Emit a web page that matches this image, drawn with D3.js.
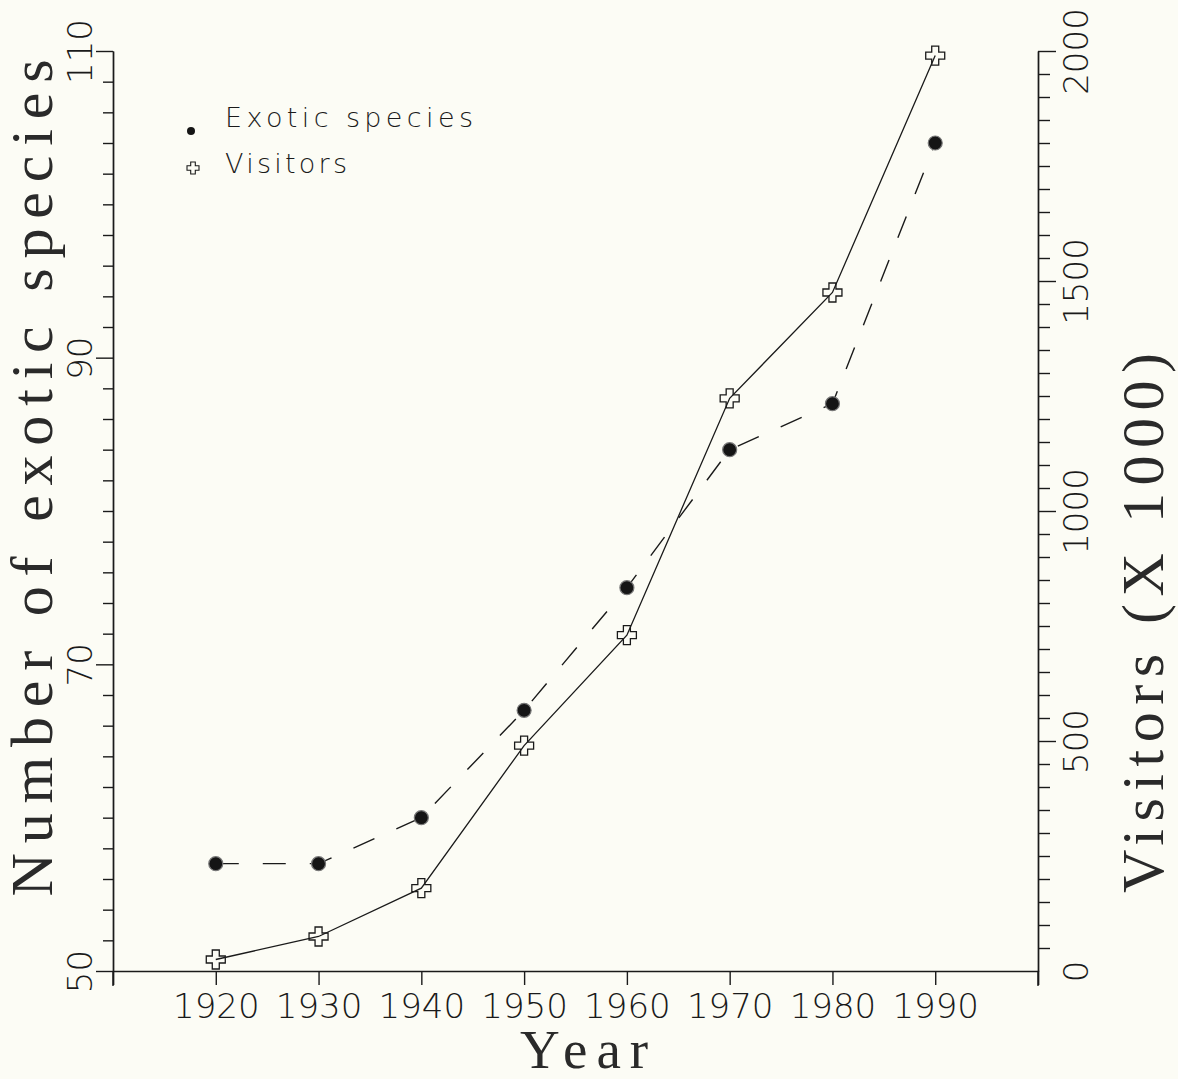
<!DOCTYPE html>
<html>
<head>
<meta charset="utf-8">
<script src="https://cdn.jsdelivr.net/npm/d3@7"></script>
<style>
  body { margin: 0; background: #fcfcf5; }
  svg { display: block; }
  .tick text { font-family: "DejaVu Sans", sans-serif; font-weight: 200; fill: #1a1a1a; }
  .axis path, .axis line { stroke: #1a1a1a; stroke-width: 1.4; }
</style>
</head>
<body>
<script>
// data
const years = [1920, 1930, 1940, 1950, 1960, 1970, 1980, 1990];
const exoticSpecies = [57, 57, 60, 67, 75, 84, 87, 104];
const visitors = [25, 75, 180, 490, 730, 1245, 1475, 1990];

const xTicks = [1910, 1920, 1930, 1940, 1950, 1960, 1970, 1980, 1990, 2000];
const xLabels = [1920, 1930, 1940, 1950, 1960, 1970, 1980, 1990];
const leftLabels = [50, 70, 90, 110];
const rightLabels = [0, 500, 1000, 1500, 2000];

const outerWidth = 1178;
const outerHeight = 1079;

const svg = d3.select('body')
  .append('svg')
  .attr('width', outerWidth)
  .attr('height', outerHeight)
  .style('background', '#fcfcf5');

const xScale = d3.scaleLinear().domain([1910, 2000]).range([113, 1038]);
const yLeft = d3.scaleLinear().domain([50, 110]).range([971, 51]);
const yRight = d3.scaleLinear().domain([0, 2000]).range([971, 51]);

// x axis
const xAxis = d3.axisBottom(xScale)
  .tickValues(xTicks)
  .tickSizeOuter(0)
  .tickSize(14)
  .tickFormat(d => xLabels.includes(d) ? d : '');

svg.append('g')
  .attr('class', 'axis x-axis')
  .attr('transform', 'translate(0, 971)')
  .call(xAxis)
  .call(g => g.selectAll('.tick text')
    .attr('y', 47).attr('dy', 0)
    .attr('font-size', 34));

// left axis: minor ticks every 2, labelled every 20
const leftMinor = d3.range(52, 110, 2).filter(d => !leftLabels.includes(d));
svg.append('g')
  .attr('class', 'axis y-left-minor')
  .attr('transform', 'translate(113, 0)')
  .call(d3.axisLeft(yLeft).tickValues(leftMinor).tickSize(10).tickSizeOuter(0).tickFormat(''));

svg.append('g')
  .attr('class', 'axis y-left')
  .attr('transform', 'translate(113, 0)')
  .call(d3.axisLeft(yLeft).tickValues(leftLabels).tickSize(17).tickSizeOuter(0))
  .call(g => g.selectAll('.tick text')
    .attr('transform', 'rotate(-90)')
    .attr('x', 0).attr('y', -21).attr('dy', 0)
    .attr('text-anchor', 'middle')
    .attr('font-size', 34));

// extend left axis below x axis
svg.append('line')
  .attr('x1', 113).attr('x2', 113)
  .attr('y1', yLeft(50)).attr('y2', yLeft(50) + 15)
  .attr('stroke', '#1a1a1a').attr('stroke-width', 1.4);

// right axis: minor every 50, labelled every 500
const rightMinor = d3.range(50, 2000, 50).filter(d => d % 500 !== 0);
svg.append('g')
  .attr('class', 'axis y-right-minor')
  .attr('transform', 'translate(1038, 0)')
  .call(d3.axisRight(yRight).tickValues(rightMinor).tickSize(12).tickSizeOuter(0).tickFormat(''));

svg.append('g')
  .attr('class', 'axis y-right')
  .attr('transform', 'translate(1038, 0)')
  .call(d3.axisRight(yRight).tickValues(rightLabels).tickSize(18).tickSizeOuter(0).tickFormat(d3.format('d')))
  .call(g => g.selectAll('.tick line').filter(d => d === 0).remove())
  .call(g => g.selectAll('.tick text')
    .attr('transform', 'rotate(-90)')
    .attr('x', 0).attr('y', 50).attr('dy', 0)
    .attr('text-anchor', 'middle')
    .attr('font-size', 34));

svg.append('line')
  .attr('x1', 1038).attr('x2', 1038)
  .attr('y1', yRight(0)).attr('y2', yRight(0) + 15)
  .attr('stroke', '#1a1a1a').attr('stroke-width', 1.4);

// lines
const exoticLine = d3.line()
  .x((d, i) => xScale(years[i]))
  .y(d => yLeft(d));

const visitorLine = d3.line()
  .x((d, i) => xScale(years[i]))
  .y(d => yRight(d));

svg.append('path')
  .datum(exoticSpecies)
  .attr('d', exoticLine)
  .attr('fill', 'none')
  .attr('stroke', '#1a1a1a')
  .attr('stroke-width', 1.4)
  .attr('stroke-dasharray', '23,24');

svg.append('path')
  .datum(visitors)
  .attr('d', visitorLine)
  .attr('fill', 'none')
  .attr('stroke', '#1a1a1a')
  .attr('stroke-width', 1.3);

// markers
function crossPath(a, l) {
  return `M${-a},${-l}H${a}V${-a}H${l}V${a}H${a}V${l}H${-a}V${a}H${-l}V${-a}H${-a}Z`;
}

svg.selectAll('.exotic-dot')
  .data(exoticSpecies)
  .enter()
  .append('circle')
  .attr('class', 'exotic-dot')
  .attr('cx', (d, i) => xScale(years[i]))
  .attr('cy', d => yLeft(d))
  .attr('r', 7)
  .attr('fill', '#151515')
  .attr('stroke', '#777')
  .attr('stroke-width', 1.2);

svg.selectAll('.visitor-cross')
  .data(visitors)
  .enter()
  .append('path')
  .attr('class', 'visitor-cross')
  .attr('transform', (d, i) => `translate(${xScale(years[i])}, ${yRight(d)})`)
  .attr('d', crossPath(3.5, 9.5))
  .attr('fill', 'none')
  .attr('stroke', '#1a1a1a')
  .attr('stroke-width', 1.3);

// legend
svg.append('circle')
  .attr('cx', 191).attr('cy', 131).attr('r', 4)
  .attr('fill', '#151515');
svg.append('path')
  .attr('transform', 'translate(193, 168)')
  .attr('d', crossPath(2.3, 6))
  .attr('fill', 'none')
  .attr('stroke', '#1a1a1a')
  .attr('stroke-width', 1.1);

svg.append('text')
  .attr('x', 225).attr('y', 127)
  .attr('font-family', '"DejaVu Sans", sans-serif')
  .attr('font-weight', 200)
  .attr('font-size', 27)
  .attr('textLength', 248)
  .attr('lengthAdjust', 'spacing')
  .attr('fill', '#1a1a1a')
  .text('Exotic species');

svg.append('text')
  .attr('x', 225).attr('y', 173)
  .attr('font-family', '"DejaVu Sans", sans-serif')
  .attr('font-weight', 200)
  .attr('font-size', 27)
  .attr('textLength', 122)
  .attr('lengthAdjust', 'spacing')
  .attr('fill', '#1a1a1a')
  .text('Visitors');

// axis titles
svg.append('text')
  .attr('transform', 'translate(52, 478) rotate(-90)')
  .attr('text-anchor', 'middle')
  .attr('font-family', '"Liberation Serif", serif')
  .attr('font-size', 60)
  .attr('textLength', 837)
  .attr('lengthAdjust', 'spacing')
  .attr('fill', '#2a2a2a')
  .text('Number of exotic species');

svg.append('text')
  .attr('transform', 'translate(1163, 623) rotate(-90)')
  .attr('text-anchor', 'middle')
  .attr('font-family', '"Liberation Serif", serif')
  .attr('font-size', 60)
  .attr('textLength', 540)
  .attr('lengthAdjust', 'spacing')
  .attr('fill', '#2a2a2a')
  .text('Visitors (X 1000)');

svg.append('text')
  .attr('x', 584).attr('y', 1068)
  .attr('text-anchor', 'middle')
  .attr('font-family', '"Liberation Serif", serif')
  .attr('font-size', 55)
  .attr('textLength', 128)
  .attr('lengthAdjust', 'spacing')
  .attr('fill', '#2a2a2a')
  .text('Year');
</script>
</body>
</html>
